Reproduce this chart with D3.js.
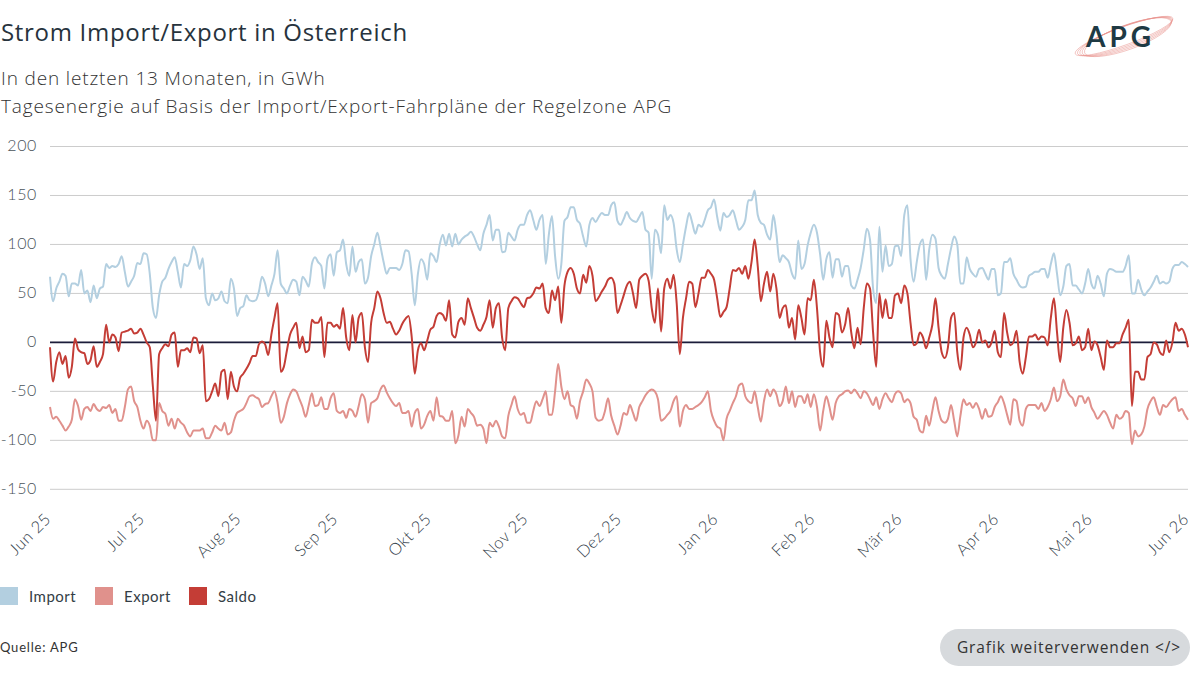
<!DOCTYPE html>
<html>
<head>
<meta charset="utf-8">
<script src="https://cdn.jsdelivr.net/npm/d3@7"></script>
<style>
  body { margin: 0; background: #fff; }
  svg { font-family: Lato, "Open Sans", sans-serif; }
  .wide { font-family: "Open Sans", sans-serif; }
</style>
</head>
<body>
<svg id="chart" width="1200" height="675"></svg>
<script>
// daily values from 1 Jun 2025 (index 0) to 1 Jun 2026, GWh
const startDay = "2025-06-01";

const importValues = [
  67,42,55,62,70,68,47,60,60,58,74,50,53,41,58,45,55,57,80,76,78,77,80,88,72,57,62,68,81,80,91,90,70,35,25,48,62,66,
  75,82,87,72,56,80,78,84,98,90,75,86,45,38,50,43,45,52,42,40,65,55,27,35,37,48,43,42,43,52,67,60,47,58,70,94,60,55,50,58,64,62,48,67,63,57,80,
  87,82,78,55,85,90,68,92,94,105,80,68,98,72,82,85,60,66,88,100,112,98,82,70,76,76,76,74,80,94,93,70,38,70,85,80,64,91,88,82,100,110,99,111,98,111,100,
  105,108,110,113,108,100,94,111,120,130,104,115,115,92,93,112,108,104,115,120,120,130,135,125,115,125,130,80,110,129,88,65,80,124,128,138,138,125,121,108,98,120,127,123,128,132,130,
  130,140,143,124,120,126,133,127,124,123,128,133,115,112,65,115,110,91,140,125,130,122,95,82,100,118,132,122,111,120,118,125,135,138,146,128,114,132,128,130,135,125,115,118,125,145,
  145,155,130,122,120,110,105,130,110,82,89,86,82,70,65,104,75,80,99,112,120,112,90,64,85,92,66,85,85,67,78,78,58,55,64,76,95,116,105,55,40,118,72,99,78,80,98,99,
  88,130,140,85,62,82,100,105,64,95,110,106,76,68,65,80,96,108,100,60,60,87,75,70,67,75,76,70,64,75,75,48,50,82,82,86,70,64,58,56,57,68,70,72,72,75,
  75,66,80,91,70,48,57,78,80,58,58,54,50,60,75,60,55,68,60,47,70,75,74,72,72,72,78,89,50,50,64,54,48,52,56,62,68,60,62,60,62,75,79,79,82,80,77
];

const exportValues = [
  -66,-78,-76,-80,-85,-90,-86,-79,-58,-65,-79,-68,-66,-70,-63,-68,-70,-66,-67,-64,-72,-68,-80,-80,-66,-48,-45,-60,-66,-80,-88,-80,-85,-100,-100,-62,-70,-73,
  -85,-78,-88,-78,-82,-85,-92,-96,-90,-90,-90,-88,-98,-98,-92,-85,-88,-90,-82,-94,-92,-80,-72,-70,-68,-62,-55,-54,-56,-58,-66,-63,-62,-55,-50,-62,-82,-76,-62,-53,-48,-50,-58,-66,-76,-64,-52,
  -65,-64,-56,-68,-68,-57,-52,-70,-72,-70,-77,-68,-70,-76,-65,-53,-58,-82,-62,-60,-57,-48,-44,-51,-57,-62,-65,-62,-72,-72,-70,-86,-72,-68,-88,-84,-75,-70,-80,-56,-75,-76,-80,-80,-70,-103,-95,
  -76,-86,-68,-72,-76,-85,-84,-88,-103,-82,-86,-80,-86,-96,-98,-75,-64,-55,-68,-74,-72,-82,-82,-70,-60,-65,-58,-50,-74,-74,-50,-22,-45,-58,-50,-64,-66,-78,-60,-50,-38,-42,-50,-77,-80,-79,-70,
  -57,-75,-85,-94,-85,-72,-74,-64,-72,-80,-66,-60,-54,-50,-48,-50,-58,-80,-78,-74,-70,-60,-55,-86,-70,-64,-68,-68,-66,-64,-61,-56,-50,-70,-80,-86,-88,-100,-78,-70,-62,-55,-44,-42,-55,-60,
  -62,-50,-66,-81,-60,-48,-55,-48,-53,-65,-60,-45,-62,-50,-66,-55,-55,-62,-53,-66,-53,-66,-90,-70,-55,-66,-79,-62,-55,-53,-50,-49,-52,-48,-52,-57,-50,-52,-58,-64,-56,-68,-58,-52,-57,-61,-53,-50,
  -52,-61,-58,-62,-76,-79,-90,-92,-75,-85,-70,-56,-70,-80,-82,-78,-64,-80,-96,-75,-58,-64,-62,-67,-62,-68,-78,-68,-76,-75,-66,-61,-55,-62,-74,-84,-58,-60,-80,-85,-68,-64,-64,-64,-68,-62,
  -70,-66,-58,-46,-60,-55,-38,-48,-54,-57,-65,-55,-55,-62,-56,-66,-72,-78,-74,-70,-74,-82,-88,-74,-78,-76,-70,-72,-104,-90,-96,-94,-86,-68,-60,-56,-66,-74,-64,-66,-62,-58,-56,-70,-68,-74,-79
];

const saldoValues = [
  -5,-40,-20,-10,-22,-14,-36,-25,4,-7,-10,-11,-22,-18,-4,-25,-20,-12,18,0,8,5,-9,10,11,12,14,9,10,14,8,0,-5,-45,-80,-12,-6,-2,
  -4,8,10,-25,-8,-8,-6,-10,5,4,-11,-3,-60,-58,-50,-42,-55,-30,-28,-58,-30,-45,-50,-36,-32,-27,-21,-14,-14,-2,1,-2,-13,8,25,40,-30,-25,-8,8,15,20,-6,6,-10,-8,23,
  20,20,26,-15,20,20,16,18,14,35,5,-8,28,0,25,30,-5,-20,20,35,52,45,30,20,21,14,8,12,19,24,27,6,-32,-8,-1,-8,2,13,16,27,30,28,22,43,8,5,21,
  25,18,45,35,25,15,12,18,26,43,15,35,40,5,-8,35,42,46,45,40,36,45,46,50,56,55,60,35,30,53,43,57,20,58,72,76,70,55,50,69,61,78,68,42,46,52,57,
  64,66,60,30,38,48,58,62,50,35,64,68,70,63,35,20,55,11,55,65,55,69,40,-12,25,45,62,60,36,50,66,66,74,70,64,45,26,31,36,55,74,73,76,70,78,65,
  82,105,78,42,60,72,52,70,55,25,35,38,15,25,3,38,25,8,45,43,64,35,-10,-25,22,5,-5,30,28,10,18,35,10,-6,15,-2,35,60,55,10,-25,50,25,44,25,25,48,50,
  40,58,50,20,-3,-1,10,5,-6,5,18,45,15,-10,-16,-5,25,30,-10,-28,5,15,8,-5,0,13,0,2,-5,0,12,-10,-15,30,10,-3,0,12,-20,-32,-15,6,6,8,3,6,
  5,-3,25,45,10,-20,15,33,20,-3,-1,6,-8,-5,14,-8,1,-3,-15,-28,2,-5,-5,-1,-1,8,15,23,-65,-30,-30,-38,-38,-15,-12,0,-2,-10,-13,2,-10,0,20,12,14,8,-5
];

const yTicks = [200, 150, 100, 50, 0, -50, -100, -150];
const monthLabels = ["Jun 25", "Jul 25", "Aug 25", "Sep 25", "Okt 25", "Nov 25", "Dez 25",
                     "Jan 26", "Feb 26", "Mär 26", "Apr 26", "Mai 26", "Jun 26"];
const seriesNames = ["Import", "Export", "Saldo"];
const seriesColors = ["#b3cfe0", "#e0918c", "#c43d36"];

const svg = d3.select("#chart");
const t0 = d3.isoParse(startDay + "T00:00:00");
const dayOf = (i) => d3.timeDay.offset(t0, i);

const x = d3.scaleTime()
  .domain([t0, d3.timeMonth.offset(t0, 12)])
  .range([50, 1188]);
const y = d3.scaleLinear().domain([-150, 200]).range([489.3, 146.5]);

// titles
svg.append("text").attr("class", "wide").attr("x", 1).attr("y", 41)
  .attr("font-size", 24).attr("font-weight", 500).attr("fill", "#27333d")
  .attr("letter-spacing", 0.7)
  .text("Strom Import/Export in Österreich");
svg.append("text").attr("class", "wide").attr("x", 1).attr("y", 85)
  .attr("font-size", 19).attr("font-weight", 300).attr("fill", "#333")
  .attr("letter-spacing", 0.85)
  .text("In den letzten 13 Monaten, in GWh");
svg.append("text").attr("class", "wide").attr("x", 1).attr("y", 113)
  .attr("font-size", 19).attr("font-weight", 300).attr("fill", "#333")
  .attr("letter-spacing", 0.85)
  .text("Tagesenergie auf Basis der Import/Export-Fahrpläne der Regelzone APG");

// logo
const logo = svg.append("g").attr("transform", "translate(1124,36)");
[0, 1, 2, 3, 4].forEach((k) => {
  logo.append("ellipse")
    .attr("rx", 52 - k * 1.5).attr("ry", 9 + k * 0.8)
    .attr("transform", `rotate(-20) translate(${k * 0.8},${k * 0.6})`)
    .attr("fill", "none").attr("stroke", "#e8928c")
    .attr("stroke-width", 0.6).attr("opacity", 0.8);
});
logo.append("text").attr("x", -38).attr("y", 11)
  .attr("font-size", 28).attr("font-weight", 700).attr("fill", "#1e3a44")
  .attr("letter-spacing", 4)
  .text("APG");

// grid and y labels
const grid = svg.append("g");
grid.selectAll("line").data(yTicks).join("line")
  .attr("x1", 50).attr("x2", 1188)
  .attr("y1", (d) => y(d)).attr("y2", (d) => y(d))
  .attr("stroke", "#cccccc").attr("stroke-width", 1);
grid.selectAll("text").data(yTicks).join("text")
  .attr("x", 37).attr("y", (d) => y(d) - 1)
  .attr("dy", "0.35em").attr("text-anchor", "end")
  .attr("font-size", 16).attr("font-weight", 300).attr("fill", "#4a535a")
  .attr("letter-spacing", 0.6)
  .text((d) => d);

// x labels
const monthTicks = monthLabels.map((m, i) => d3.timeMonth.offset(t0, i));
svg.append("g").selectAll("text").data(monthTicks).join("text")
  .attr("text-anchor", "end")
  .attr("transform", (d) => `translate(${x(d) + 2},520) rotate(-45)`)
  .attr("font-size", 16.5).attr("font-weight", 300).attr("fill", "#34414b")
  .attr("letter-spacing", 0.5)
  .text((d, i) => monthLabels[i]);

// zero line
svg.append("line").attr("x1", 50).attr("x2", 1188)
  .attr("y1", y(0)).attr("y2", y(0))
  .attr("stroke", "#1b1c3a").attr("stroke-width", 1.6);

// series
const line = d3.line()
  .x((d, i) => x(dayOf(i)))
  .y((d) => y(d))
  .curve(d3.curveMonotoneX);

[importValues, exportValues, saldoValues].forEach((vals, k) => {
  svg.append("path")
    .attr("d", line(vals))
    .attr("fill", "none")
    .attr("stroke", seriesColors[k])
    .attr("stroke-width", 2)
    .attr("stroke-linejoin", "round");
});

// legend
const legend = svg.append("g").attr("transform", "translate(0,587)");
const legendX = [0, 95, 189];
seriesNames.forEach((name, k) => {
  legend.append("rect").attr("x", legendX[k]).attr("y", 0)
    .attr("width", 18).attr("height", 18).attr("fill", seriesColors[k]);
  legend.append("text").attr("x", legendX[k] + 29).attr("y", 15)
    .attr("font-size", 15).attr("fill", "#333d45").attr("letter-spacing", 0.5)
    .text(name);
});

// footer
svg.append("text").attr("x", 0).attr("y", 652)
  .attr("font-size", 13).attr("fill", "#333").attr("letter-spacing", 0.8)
  .text("Quelle: APG");
svg.append("rect").attr("x", 940).attr("y", 629).attr("width", 250).attr("height", 37)
  .attr("rx", 18.5).attr("fill", "#d7dadd");
svg.append("text").attr("class", "wide").attr("x", 1069).attr("y", 653).attr("text-anchor", "middle")
  .attr("font-size", 15.5).attr("font-weight", 400).attr("fill", "#333")
  .attr("letter-spacing", 0.9)
  .text("Grafik weiterverwenden </>");
</script>
</body>
</html>
